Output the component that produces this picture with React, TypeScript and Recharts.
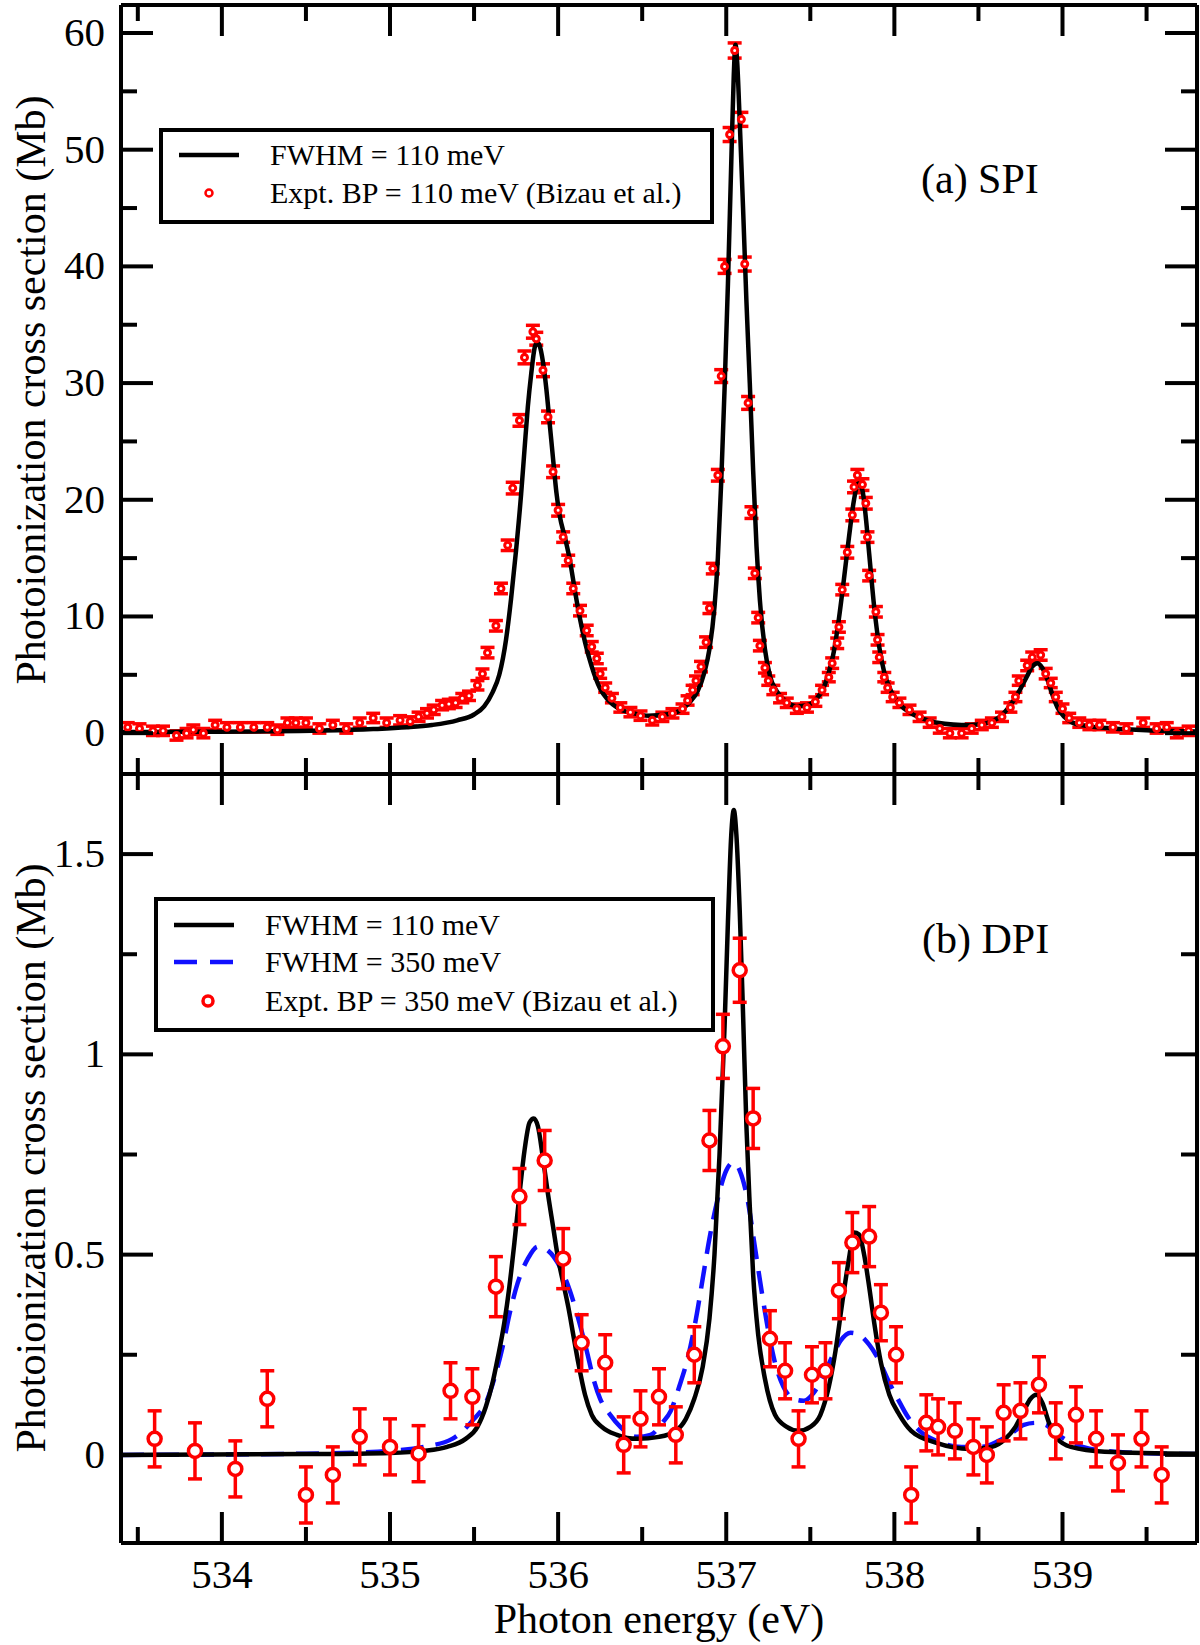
import { ComposedChart, Line, Scatter, ErrorBar, XAxis, YAxis, Legend } from 'recharts'

// photon energy ticks (eV), majors on integers
const xTicks = [533.5, 534, 534.5, 535, 535.5, 536, 536.5, 537, 537.5, 538, 538.5, 539, 539.5]
const spiTicks = [0, 5, 10, 15, 20, 25, 30, 35, 40, 45, 50, 55, 60]
const dpiTicks = [0, 0.25, 0.5, 0.75, 1, 1.25, 1.5]

// (a) SPI theory, FWHM = 110 meV  [energy, Mb]
const spiTheory = [
  [533.4, 0.1], [533.8, 0.12], [534.2, 0.15], [534.6, 0.22], [534.9, 0.35], [535.1, 0.5],
  [535.25, 0.7], [535.4, 1.1], [535.5, 1.6], [535.56, 2.3], [535.61, 3.5], [535.65, 5.0],
  [535.69, 8.0], [535.72, 11.5], [535.75, 15.7], [535.78, 20.5], [535.8, 24.3], [535.82, 28.0],
  [535.84, 30.8], [535.86, 33.0], [535.875, 33.5], [535.89, 33.2], [535.91, 31.8], [535.93, 29.5],
  [535.95, 26.5], [535.97, 23.5], [535.99, 20.6], [536.01, 18.6], [536.04, 16.8], [536.07, 14.8],
  [536.1, 12.2], [536.13, 9.8], [536.16, 7.8], [536.2, 5.7], [536.25, 3.8], [536.3, 2.8],
  [536.36, 2.1], [536.45, 1.7], [536.54, 1.5], [536.64, 1.6], [536.72, 1.9], [536.78, 2.6],
  [536.83, 3.6], [536.87, 5.2], [536.9, 7.2], [536.93, 10.8], [536.95, 15.0], [536.97, 21.5],
  [536.99, 29.5], [537.01, 38.5], [537.03, 49.0], [537.045, 56.5], [537.055, 59.0], [537.065, 57.5],
  [537.08, 52.5], [537.1, 45.0], [537.12, 37.0], [537.14, 30.0], [537.16, 22.5], [537.18, 16.0],
  [537.2, 11.4], [537.23, 7.2], [537.26, 4.9], [537.3, 3.6], [537.35, 2.8], [537.42, 2.3],
  [537.48, 2.4], [537.54, 3.0], [537.58, 3.9], [537.61, 5.2], [537.64, 7.0], [537.67, 9.8],
  [537.7, 13.2], [537.73, 16.8], [537.76, 20.0], [537.785, 21.4], [537.81, 20.8], [537.83, 18.5],
  [537.85, 15.4], [537.88, 10.8], [537.91, 7.4], [537.94, 5.2], [537.98, 3.6], [538.03, 2.5],
  [538.1, 1.7], [538.2, 1.1], [538.3, 0.8], [538.4, 0.7], [538.5, 0.75], [538.58, 1.0],
  [538.65, 1.7], [538.7, 2.6], [538.75, 3.8], [538.79, 4.9], [538.82, 5.7], [538.85, 6.0],
  [538.88, 5.6], [538.91, 4.6], [538.94, 3.3], [538.97, 2.2], [539.01, 1.4], [539.06, 0.9],
  [539.15, 0.6], [539.3, 0.4], [539.5, 0.25], [539.8, 0.15],
]

// (a) SPI experiment, Bizau et al.  [energy, Mb, error]
const spiExpt = [
  [533.44, 0.5, 0.4], [533.51, 0.4, 0.4], [533.59, 0.2, 0.4], [533.65, 0.2, 0.4], [533.73, -0.2, 0.4],
  [533.79, 0.0, 0.4], [533.83, 0.3, 0.4], [533.89, 0.0, 0.4], [533.96, 0.7, 0.4], [534.03, 0.5, 0.4],
  [534.11, 0.5, 0.4], [534.19, 0.5, 0.4], [534.27, 0.5, 0.4], [534.33, 0.3, 0.4], [534.39, 0.9, 0.4],
  [534.44, 0.9, 0.4], [534.5, 0.9, 0.4], [534.58, 0.4, 0.4], [534.66, 0.7, 0.4], [534.74, 0.4, 0.4],
  [534.82, 0.9, 0.4], [534.9, 1.3, 0.4], [534.98, 0.9, 0.4], [535.06, 1.1, 0.4], [535.12, 1.0, 0.4],
  [535.17, 1.4, 0.4], [535.22, 1.7, 0.4], [535.26, 2.0, 0.4], [535.31, 2.4, 0.4], [535.35, 2.5, 0.4],
  [535.39, 2.6, 0.4], [535.43, 3.0, 0.4], [535.47, 3.2, 0.4], [535.52, 4.1, 0.4], [535.55, 5.1, 0.4],
  [535.58, 6.9, 0.45], [535.63, 9.2, 0.45], [535.66, 12.4, 0.45], [535.7, 16.1, 0.45], [535.73, 21.0, 0.5],
  [535.77, 26.8, 0.5], [535.8, 32.2, 0.55], [535.85, 34.4, 0.55], [535.87, 33.8, 0.55], [535.91, 31.1, 0.55],
  [535.94, 27.1, 0.5], [535.97, 22.4, 0.5], [536.0, 19.1, 0.5], [536.03, 16.8, 0.45], [536.06, 14.8, 0.45],
  [536.09, 12.4, 0.45], [536.13, 10.5, 0.45], [536.17, 8.8, 0.45], [536.2, 7.4, 0.45], [536.23, 6.4, 0.45],
  [536.25, 5.1, 0.4], [536.28, 3.9, 0.4], [536.32, 3.0, 0.4], [536.37, 2.2, 0.4], [536.43, 1.8, 0.4],
  [536.49, 1.5, 0.4], [536.56, 1.1, 0.4], [536.62, 1.4, 0.4], [536.68, 1.7, 0.4], [536.74, 2.1, 0.4],
  [536.77, 2.8, 0.4], [536.8, 3.7, 0.4], [536.82, 4.5, 0.4], [536.85, 5.7, 0.45], [536.88, 7.8, 0.45],
  [536.9, 10.7, 0.45], [536.92, 14.1, 0.45], [536.95, 22.1, 0.5], [536.97, 30.6, 0.55], [536.99, 40.0, 0.6],
  [537.02, 51.3, 0.6], [537.05, 58.5, 0.65], [537.09, 52.6, 0.6], [537.11, 40.2, 0.6], [537.13, 28.3, 0.55],
  [537.15, 18.9, 0.5], [537.17, 13.7, 0.45], [537.19, 9.9, 0.45], [537.2, 7.5, 0.45], [537.23, 5.6, 0.45],
  [537.25, 4.5, 0.4], [537.28, 3.7, 0.4], [537.32, 3.0, 0.4], [537.36, 2.6, 0.4], [537.42, 2.1, 0.4],
  [537.48, 2.2, 0.4], [537.53, 2.7, 0.4], [537.57, 3.7, 0.4], [537.61, 4.8, 0.4], [537.63, 6.0, 0.45],
  [537.66, 7.7, 0.45], [537.67, 9.1, 0.45], [537.69, 12.3, 0.45], [537.72, 15.5, 0.5], [537.75, 18.7, 0.5],
  [537.76, 21.1, 0.5], [537.78, 22.1, 0.5], [537.81, 21.3, 0.5], [537.83, 19.7, 0.5], [537.84, 16.8, 0.45],
  [537.85, 13.5, 0.45], [537.89, 10.4, 0.45], [537.9, 8.0, 0.45], [537.91, 6.5, 0.45], [537.94, 4.8, 0.4],
  [537.96, 3.9, 0.4], [537.99, 3.1, 0.4], [538.03, 2.6, 0.4], [538.09, 2.0, 0.4], [538.15, 1.4, 0.4],
  [538.21, 0.9, 0.4], [538.27, 0.4, 0.4], [538.33, 0.0, 0.4], [538.4, 0.0, 0.4], [538.46, 0.4, 0.4],
  [538.52, 0.7, 0.4], [538.58, 0.9, 0.4], [538.64, 1.4, 0.4], [538.69, 2.2, 0.4], [538.72, 3.1, 0.4],
  [538.74, 4.5, 0.4], [538.79, 5.8, 0.45], [538.82, 6.5, 0.45], [538.87, 6.7, 0.45], [538.9, 5.1, 0.45],
  [538.93, 4.3, 0.4], [538.96, 3.1, 0.4], [539.0, 2.1, 0.4], [539.04, 1.3, 0.4], [539.1, 0.9, 0.4],
  [539.16, 0.7, 0.4], [539.22, 0.7, 0.4], [539.3, 0.5, 0.4], [539.38, 0.4, 0.4], [539.48, 0.9, 0.4],
  [539.56, 0.4, 0.4], [539.62, 0.5, 0.4], [539.68, 0.0, 0.4], [539.75, 0.2, 0.4],
]

// (b) DPI theory, FWHM = 110 meV
const dpiTheory110 = [
  [533.4, 0.0], [534.5, 0.002], [535.0, 0.005], [535.2, 0.01], [535.34, 0.02], [535.45, 0.04],
  [535.52, 0.07], [535.57, 0.12], [535.61, 0.18], [535.64, 0.24], [535.68, 0.33], [535.71, 0.42],
  [535.74, 0.53], [535.77, 0.65], [535.8, 0.76], [535.83, 0.83], [535.855, 0.84], [535.88, 0.82],
  [535.91, 0.74], [535.94, 0.65], [535.97, 0.57], [536.0, 0.49], [536.03, 0.43], [536.06, 0.37],
  [536.09, 0.3], [536.12, 0.23], [536.16, 0.15], [536.2, 0.1], [536.26, 0.07], [536.35, 0.05],
  [536.47, 0.04], [536.6, 0.045], [536.7, 0.06], [536.76, 0.09], [536.81, 0.14], [536.86, 0.22],
  [536.9, 0.34], [536.93, 0.5], [536.96, 0.75], [536.99, 1.07], [537.01, 1.33], [537.03, 1.55],
  [537.045, 1.61], [537.06, 1.55], [537.08, 1.36], [537.1, 1.1], [537.12, 0.82], [537.14, 0.62],
  [537.16, 0.45], [537.19, 0.3], [537.23, 0.19], [537.29, 0.1], [537.36, 0.07], [537.43, 0.06],
  [537.5, 0.07], [537.56, 0.1], [537.61, 0.17], [537.65, 0.26], [537.69, 0.38], [537.73, 0.49],
  [537.76, 0.555], [537.79, 0.55], [537.82, 0.5], [537.85, 0.42], [537.88, 0.33], [537.92, 0.23],
  [537.97, 0.15], [538.03, 0.1], [538.1, 0.06], [538.25, 0.03], [538.45, 0.015], [538.58, 0.02],
  [538.66, 0.04], [538.72, 0.07], [538.77, 0.11], [538.81, 0.14], [538.845, 0.15], [538.88, 0.13],
  [538.92, 0.08], [538.97, 0.04], [539.05, 0.02], [539.25, 0.008], [539.8, 0.003],
]

// (b) DPI theory, FWHM = 350 meV
const dpiTheory350 = [
  [533.4, 0.0], [534.5, 0.003], [535.0, 0.01], [535.2, 0.02], [535.37, 0.04], [535.5, 0.09],
  [535.57, 0.13], [535.62, 0.19], [535.67, 0.27], [535.71, 0.35], [535.76, 0.43], [535.82, 0.49],
  [535.88, 0.52], [535.94, 0.51], [536.01, 0.47], [536.07, 0.41], [536.12, 0.34], [536.17, 0.26],
  [536.21, 0.19], [536.25, 0.14], [536.31, 0.1], [536.37, 0.07], [536.47, 0.045], [536.55, 0.05],
  [536.62, 0.08], [536.67, 0.11], [536.72, 0.17], [536.77, 0.24], [536.82, 0.34], [536.86, 0.44],
  [536.9, 0.54], [536.95, 0.64], [537.0, 0.71], [537.04, 0.73], [537.08, 0.71], [537.13, 0.63],
  [537.17, 0.52], [537.21, 0.41], [537.25, 0.31], [537.29, 0.23], [537.34, 0.17], [537.4, 0.14],
  [537.46, 0.135], [537.52, 0.155], [537.58, 0.2], [537.63, 0.245], [537.68, 0.285], [537.74, 0.305],
  [537.79, 0.3], [537.85, 0.275], [537.91, 0.235], [537.97, 0.18], [538.02, 0.14], [538.08, 0.095],
  [538.15, 0.06], [538.25, 0.035], [538.4, 0.02], [538.52, 0.02], [538.62, 0.035], [538.7, 0.055],
  [538.77, 0.075], [538.84, 0.08], [538.9, 0.075], [538.96, 0.055], [539.03, 0.035], [539.12, 0.02],
  [539.25, 0.01], [539.5, 0.004], [539.8, 0.002],
]

// (b) DPI experiment, Bizau et al.  [energy, Mb, error]
const dpiExpt = [
  [533.6, 0.04, 0.07], [533.84, 0.01, 0.07], [534.08, -0.035, 0.07], [534.27, 0.14, 0.07],
  [534.5, -0.1, 0.07], [534.66, -0.05, 0.07], [534.82, 0.045, 0.07], [535.0, 0.02, 0.07],
  [535.17, 0.003, 0.07], [535.36, 0.16, 0.07], [535.49, 0.145, 0.07], [535.63, 0.42, 0.075],
  [535.77, 0.645, 0.07], [535.92, 0.735, 0.075], [536.03, 0.49, 0.075], [536.14, 0.28, 0.07],
  [536.28, 0.23, 0.07], [536.39, 0.025, 0.07], [536.49, 0.09, 0.07], [536.6, 0.145, 0.07],
  [536.7, 0.05, 0.07], [536.81, 0.25, 0.07], [536.9, 0.785, 0.075], [536.98, 1.02, 0.08],
  [537.08, 1.21, 0.08], [537.16, 0.84, 0.075], [537.26, 0.29, 0.07], [537.35, 0.21, 0.07],
  [537.43, 0.04, 0.07], [537.51, 0.2, 0.07], [537.59, 0.21, 0.07], [537.67, 0.41, 0.07],
  [537.75, 0.53, 0.075], [537.85, 0.545, 0.075], [537.92, 0.355, 0.07], [538.01, 0.25, 0.07],
  [538.1, -0.1, 0.07], [538.19, 0.08, 0.07], [538.26, 0.07, 0.07], [538.36, 0.06, 0.07],
  [538.47, 0.02, 0.07], [538.55, 0.0, 0.07], [538.65, 0.105, 0.07], [538.75, 0.11, 0.07],
  [538.86, 0.175, 0.07], [538.96, 0.06, 0.07], [539.08, 0.1, 0.07], [539.2, 0.04, 0.07],
  [539.33, -0.02, 0.07], [539.47, 0.04, 0.07], [539.59, -0.05, 0.07],
]

const FONT = '"Liberation Serif", "Times New Roman", Times, serif'
const RED = '#ff0000'
const BLUE = '#1010ff'
const PLOT_L = 121
const PLOT_R = 1197
const X_DOMAIN = [533.4, 539.8]
const Y_TITLE = 'Photoionization cross section (Mb)'

const toXY = (rows: number[][]) => rows.map(([x, y]) => ({ x, y }))
const toXYE = (rows: number[][]) => rows.map(([x, y, e]) => ({ x, y, e }))

const isMajor = (v: number, step: number) => Math.abs(v / step - Math.round(v / step)) < 1e-6

function XTick(props: any) {
  const { x, payload, edge, dir, labelY } = props
  const v = payload.value
  const major = isMajor(v, 1)
  return (
    <g>
      <line x1={x} x2={x} y1={edge} y2={edge + dir * (major ? 31 : 16)} stroke="#000" strokeWidth={4} />
      {labelY != null && major && (
        <text x={x} y={labelY} textAnchor="middle" fontSize={41} fontFamily={FONT} fill="#000">
          {v}
        </text>
      )}
    </g>
  )
}

function YTick(props: any) {
  const { y, payload, edge, dir, step, showLabel } = props
  const v = payload.value
  const major = isMajor(v, step)
  return (
    <g>
      <line x1={edge} x2={edge + dir * (major ? 32 : 16)} y1={y} y2={y} stroke="#000" strokeWidth={4} />
      {showLabel && major && (
        <text x={105} y={y + 13} textAnchor="end" fontSize={41} fontFamily={FONT} fill="#000">
          {v}
        </text>
      )}
    </g>
  )
}

type LegendItem = { label: string; kind: 'line' | 'dash' | 'dot' | 'circle'; color: string }

function LegendBox({ w, h, rows, items }: { w: number; h: number; rows: number[]; items: LegendItem[] }) {
  return (
    <svg width={w} height={h} style={{ display: 'block' }}>
      <rect x={2} y={2} width={w - 4} height={h - 4} fill="#fff" stroke="#000" strokeWidth={4} />
      {items.map((it, i) => {
        const cy = rows[i]
        return (
          <g key={it.label}>
            {it.kind === 'line' && <line x1={20} x2={80} y1={cy} y2={cy} stroke={it.color} strokeWidth={4.5} />}
            {it.kind === 'dash' && (
              <line x1={20} x2={80} y1={cy} y2={cy} stroke={it.color} strokeWidth={4.5} strokeDasharray="23 13" />
            )}
            {it.kind === 'dot' && <circle cx={50} cy={cy} r={3.5} fill="#fff" stroke={it.color} strokeWidth={2.5} />}
            {it.kind === 'circle' && <circle cx={54} cy={cy} r={5} fill="#fff" stroke={it.color} strokeWidth={3.5} />}
            <text x={111} y={cy + 10} fontSize={30} fontFamily={FONT} fill="#000">
              {it.label}
            </text>
          </g>
        )
      })}
    </svg>
  )
}

const spiLegend: LegendItem[] = [
  { label: 'FWHM = 110 meV', kind: 'line', color: '#000' },
  { label: 'Expt. BP = 110 meV (Bizau et al.)', kind: 'dot', color: RED },
]
const dpiLegend: LegendItem[] = [
  { label: 'FWHM = 110 meV', kind: 'line', color: '#000' },
  { label: 'FWHM = 350 meV', kind: 'dash', color: BLUE },
  { label: 'Expt. BP = 350 meV (Bizau et al.)', kind: 'circle', color: RED },
]

const axisLine = { stroke: '#000', strokeWidth: 4 }

export default function App() {
  const spiLine = toXY(spiTheory)
  const spiPts = toXYE(spiExpt)
  const dpi110 = toXY(dpiTheory110)
  const dpi350 = toXY(dpiTheory350)
  const dpiPts = toXYE(dpiExpt)

  return (
    <div style={{ position: 'absolute', left: 0, top: 0, width: 1200, height: 1645, background: '#fff', fontFamily: FONT }}>
      {/* (a) SPI */}
      <div style={{ position: 'absolute', left: 0, top: 0 }}>
        <ComposedChart width={1200} height={800} margin={{ top: 0, right: 0, bottom: 0, left: 0 }}>
          <XAxis xAxisId="b" type="number" dataKey="x" domain={X_DOMAIN} allowDataOverflow ticks={xTicks} interval={0}
            height={26} tickLine={false} axisLine={axisLine}
            tick={(p: any) => <XTick {...p} edge={774} dir={-1} />} />
          <XAxis xAxisId="t" orientation="top" type="number" dataKey="x" domain={X_DOMAIN} allowDataOverflow ticks={xTicks} interval={0}
            height={5} tickLine={false} axisLine={axisLine}
            tick={(p: any) => <XTick {...p} edge={5} dir={1} />} />
          <YAxis yAxisId="l" type="number" domain={[-3.5, 62.4]} allowDataOverflow ticks={spiTicks} interval={0}
            width={PLOT_L} tickLine={false} axisLine={axisLine}
            tick={(p: any) => <YTick {...p} edge={PLOT_L} dir={1} step={10} showLabel />} />
          <YAxis yAxisId="r" orientation="right" type="number" domain={[-3.5, 62.4]} allowDataOverflow ticks={spiTicks} interval={0}
            width={1200 - PLOT_R} tickLine={false} axisLine={axisLine}
            tick={(p: any) => <YTick {...p} edge={PLOT_R} dir={-1} step={10} />} />
          <Scatter xAxisId="b" yAxisId="l" data={spiPts} dataKey="y" isAnimationActive={false}
            shape={(p: any) => <circle cx={p.cx} cy={p.cy} r={3} fill="#fff" stroke={RED} strokeWidth={3} />}>
            <ErrorBar dataKey="e" direction="y" width={7} stroke={RED} strokeWidth={3.5} isAnimationActive={false} />
          </Scatter>
          <Line xAxisId="b" yAxisId="l" data={spiLine} dataKey="y" type="monotone" stroke="#000" strokeWidth={4.5}
            dot={false} activeDot={false} isAnimationActive={false} />
          <Legend layout="vertical" align="center" verticalAlign="middle"
            wrapperStyle={{ left: 159, top: 128, width: 555, height: 96 }}
            content={() => <LegendBox w={555} h={96} rows={[27, 65]} items={spiLegend} />} />
          <text x={921} y={193} fontSize={42} fontFamily={FONT} fill="#000">(a) SPI</text>
          <text x={45} y={390} transform="rotate(-90 45 390)" textAnchor="middle" fontSize={42} fontFamily={FONT} fill="#000">
            {Y_TITLE}
          </text>
        </ComposedChart>
      </div>

      {/* (b) DPI */}
      <div style={{ position: 'absolute', left: 0, top: 769 }}>
        <ComposedChart width={1200} height={876} margin={{ top: 0, right: 0, bottom: 0, left: 0 }}>
          <XAxis xAxisId="b" type="number" dataKey="x" domain={X_DOMAIN} allowDataOverflow ticks={xTicks} interval={0}
            height={102} tickLine={false} axisLine={axisLine}
            tick={(p: any) => <XTick {...p} edge={774} dir={-1} labelY={819} />} />
          <XAxis xAxisId="t" orientation="top" type="number" dataKey="x" domain={X_DOMAIN} allowDataOverflow ticks={xTicks} interval={0}
            height={5} tickLine={false} axisLine={axisLine}
            tick={(p: any) => <XTick {...p} edge={5} dir={1} />} />
          <YAxis yAxisId="l" type="number" domain={[-0.22, 1.7]} allowDataOverflow ticks={dpiTicks} interval={0}
            width={PLOT_L} tickLine={false} axisLine={axisLine}
            tick={(p: any) => <YTick {...p} edge={PLOT_L} dir={1} step={0.5} showLabel />} />
          <YAxis yAxisId="r" orientation="right" type="number" domain={[-0.22, 1.7]} allowDataOverflow ticks={dpiTicks} interval={0}
            width={1200 - PLOT_R} tickLine={false} axisLine={axisLine}
            tick={(p: any) => <YTick {...p} edge={PLOT_R} dir={-1} step={0.5} />} />
          <Line xAxisId="b" yAxisId="l" data={dpi350} dataKey="y" type="monotone" stroke={BLUE} strokeWidth={4.5}
            strokeDasharray="23 12" dot={false} activeDot={false} isAnimationActive={false} />
          <Line xAxisId="b" yAxisId="l" data={dpi110} dataKey="y" type="monotone" stroke="#000" strokeWidth={4.5}
            dot={false} activeDot={false} isAnimationActive={false} />
          <Scatter xAxisId="b" yAxisId="l" data={dpiPts} dataKey="y" isAnimationActive={false}
            shape={(p: any) => <circle cx={p.cx} cy={p.cy} r={6.5} fill="#fff" stroke={RED} strokeWidth={3.5} />}>
            <ErrorBar dataKey="e" direction="y" width={7} stroke={RED} strokeWidth={3.5} isAnimationActive={false} />
          </Scatter>
          <Legend layout="vertical" align="center" verticalAlign="middle"
            wrapperStyle={{ left: 154, top: 128, width: 561, height: 135 }}
            content={() => <LegendBox w={561} h={135} rows={[28, 65, 104]} items={dpiLegend} />} />
          <text x={922} y={184} fontSize={42} fontFamily={FONT} fill="#000">(b) DPI</text>
          <text x={45} y={389} transform="rotate(-90 45 389)" textAnchor="middle" fontSize={42} fontFamily={FONT} fill="#000">
            {Y_TITLE}
          </text>
          <text x={659} y={864} textAnchor="middle" fontSize={42} fontFamily={FONT} fill="#000">Photon energy (eV)</text>
        </ComposedChart>
      </div>
    </div>
  )
}
